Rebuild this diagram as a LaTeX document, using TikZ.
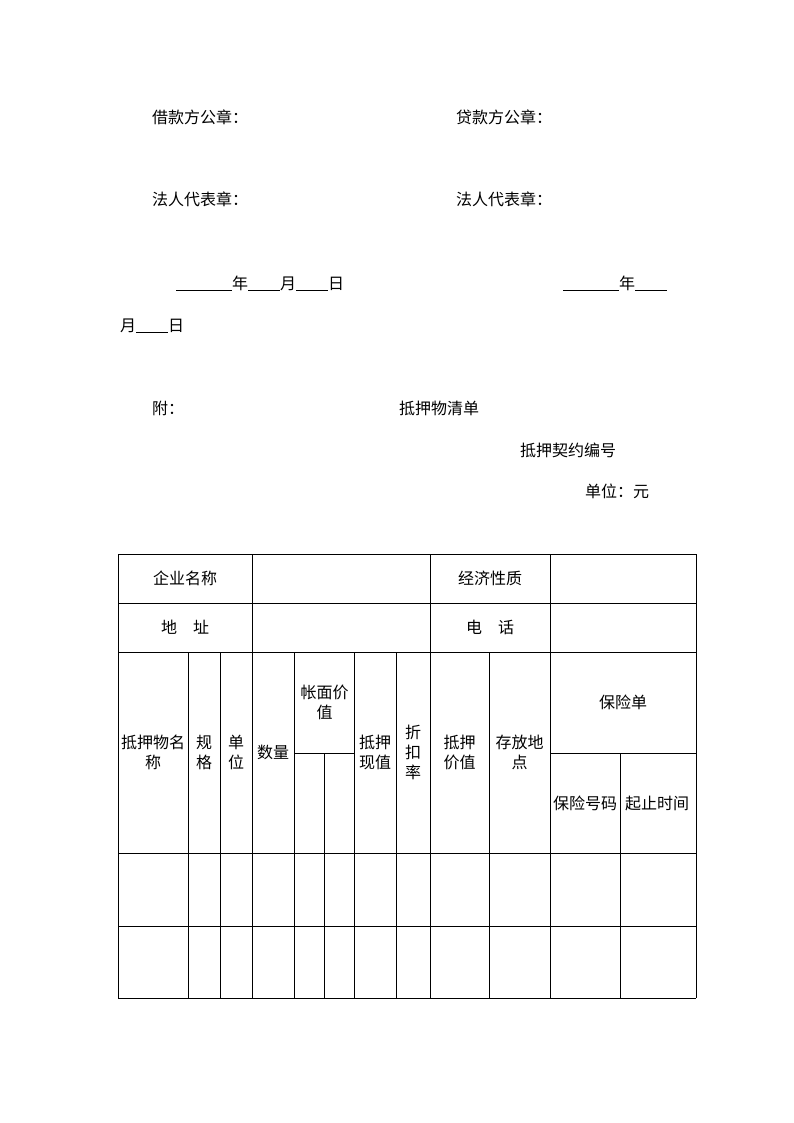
\documentclass[tikz,border=0pt]{standalone}
\usepackage{fontspec}
\newfontfamily\cjk{Noto Sans CJK SC}
\begin{document}
\begin{tikzpicture}[x=1pt,y=-1pt,
  txt/.style={inner sep=0pt,font=\cjk\fontsize{16}{20}\selectfont},
  lbl/.style={txt,anchor=base west},
  cell/.style={txt,align=center,anchor=center},
  grid/.style={line width=0.8pt,black},
  uline/.style={line width=0.8pt,black}]
\fill[white] (0,0) rectangle (794,1123);
\useasboundingbox (0,0) rectangle (794,1123);

% signature block
\node[lbl] (jk) at (152,124) {借款方公章：};
\node[lbl] (dk) at (456,124) {贷款方公章：};
\node[lbl] (fr1) at (152,206) {法人代表章：};
\node[lbl] (fr2) at (456,206) {法人代表章：};

% date line left
\coordinate (u1a) at (176,290.5); \coordinate (u1b) at (232,290.5);
\node[lbl] (y1) at (232,289) {年};
\coordinate (u2a) at (248,290.5); \coordinate (u2b) at (280,290.5);
\node[lbl] (m1) at (280,289) {月};
\coordinate (u3a) at (296,290.5); \coordinate (u3b) at (328,290.5);
\node[lbl] (d1) at (328,289) {日};
\draw[uline] (u1a) -- (u1b) (u2a) -- (u2b) (u3a) -- (u3b);

% date line right
\coordinate (v1a) at (563,290.5); \coordinate (v1b) at (619,290.5);
\node[lbl] (y2) at (619,289) {年};
\coordinate (v2a) at (635,290.5); \coordinate (v2b) at (667,290.5);
\node[lbl] (m2) at (120,331) {月};
\coordinate (v3a) at (136,332.5); \coordinate (v3b) at (168,332.5);
\node[lbl] (d2) at (168,331) {日};
\draw[uline] (v1a) -- (v1b) (v2a) -- (v2b) (v3a) -- (v3b);

% attachment titles
\node[lbl] (fu) at (152,414) {附：};
\node[lbl] (title) at (399,414) {抵押物清单};
\node[lbl] (no) at (520,456) {抵押契约编号};
\node[lbl] (unit) at (585,497) {单位：元};

% table grid
\draw[grid] (118,554) -- (696,554);
\draw[grid] (118,603) -- (696,603);
\draw[grid] (118,652) -- (696,652);
\draw[grid] (294,753) -- (354,753);
\draw[grid] (550,753) -- (696,753);
\draw[grid] (118,853) -- (696,853);
\draw[grid] (118,926) -- (696,926);
\draw[grid] (118,998) -- (696,998);
\foreach \x in {118,252,430,550,696} \draw[grid] (\x,554) -- (\x,998);
\foreach \x in {188,220,294,354,396,489} \draw[grid] (\x,652) -- (\x,998);
\foreach \x in {324,620} \draw[grid] (\x,753) -- (\x,998);

% table texts
\node[cell] (c1) at (185,578.5) {企业名称};
\node[cell] (c2) at (490,578.5) {经济性质};
\node[cell] (c3) at (185,627.5) {地　址};
\node[cell] (c4) at (490,627.5) {电　话};
\node[cell] (h1) at (153,752) {抵押物名\\称};
\node[cell] (h2) at (204,752) {规\\格};
\node[cell] (h3) at (236,752) {单\\位};
\node[cell] (h4) at (273,752) {数量};
\node[cell] (h5) at (324.5,702.5) {帐面价\\值};
\node[cell] (h6) at (375,752) {抵押\\现值};
\node[cell] (h7) at (413,752) {折\\扣\\率};
\node[cell] (h8) at (459.5,752) {抵押\\价值};
\node[cell] (h9) at (519.5,752) {存放地\\点};
\node[cell] (h10) at (623,702) {保险单};
\node[cell] (h11) at (585,803) {保险号码};
\node[cell] (h12) at (657,803) {起止时间};
\end{tikzpicture}
\end{document}
